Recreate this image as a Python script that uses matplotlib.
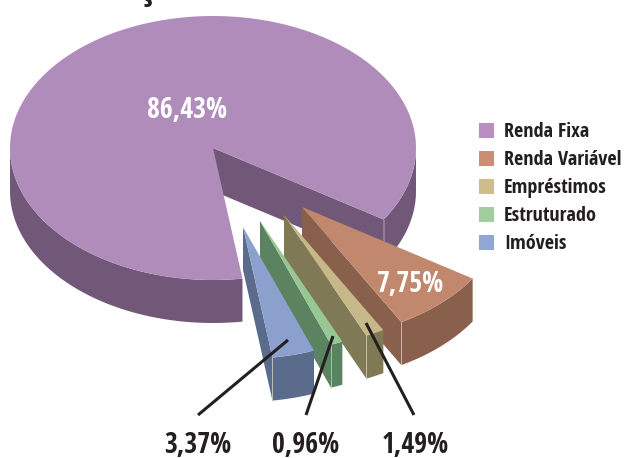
import numpy as np
import matplotlib
matplotlib.use("Agg")
import matplotlib.pyplot as plt
from matplotlib.patches import Polygon, Rectangle

# dados
categorias = ["Renda Fixa", "Renda Variável", "Empréstimos", "Estruturado", "Imóveis"]
valores = [86.43, 7.75, 1.49, 0.96, 3.37]
rotulos = ["86,43%", "7,75%", "1,49%", "0,96%", "3,37%"]
titulo = "Distribuição dos Investimentos"

cores_topo = ["#B08CBB", "#C2886E", "#C6B888", "#97C793", "#8CA0CE"]
cores_lado = ["#725878", "#89604C", "#7F7956", "#5B8360", "#5A6B8B"]
cores_legenda = ["#B88FC0", "#CC8D75", "#CDBD8C", "#A0CE9E", "#92A6D4"]

# geometria da pizza, em pixels
cx, cy = 213, 148
rx, ry = 203, 132
altura = 43
inicio = -32.8
deslocamentos = [(0, 0), (89, 59), (71, 67), (47, 73), (30, 79)]

fonte = "Open Sans Condensed"
texto_cor = "#231F20"

fig = plt.figure(figsize=(6.26, 4.58), dpi=100)
ax = fig.add_axes([0, 0, 1, 1])
ax.set_xlim(0, 626)
ax.set_ylim(458, 0)
ax.axis("off")


def arco(t1, t2, dx, dy):
    t = np.radians(np.linspace(t1, t2, 200))
    return np.column_stack([cx + dx + rx * np.cos(t), cy + dy - ry * np.sin(t)])


# angulos de cada fatia: a Renda Fixa vai no sentido anti-horario e as outras no horario
angulos = [v * 3.6 for v in valores]
limites = [(inicio, inicio + angulos[0])]
a = inicio
for ang in angulos[1:]:
    limites.append((a - ang, a))
    a -= ang


def fatia(i):
    t1, t2 = limites[i]
    dx, dy = deslocamentos[i]
    z = 2 + i
    topo = arco(t1, t2, dx, dy)
    centro = np.array([cx + dx, cy + dy])
    baixo = np.array([0, altura])
    p = topo[0]

    # parede interna, do centro ate a ponta do arco
    ax.add_patch(Polygon([centro, p, p + baixo, centro + baixo], fc=cores_lado[i], ec="none", zorder=z))
    if i == 0:
        # lateral externa: de -32 ate 0 e de 180 ate o fim do arco
        lado = arco(t1, 0, dx, dy)
        ax.add_patch(Polygon(np.vstack([lado, lado[::-1] + baixo]), fc=cores_lado[i], ec="none", zorder=z))
        lado = arco(180, t2, dx, dy)
        ax.add_patch(Polygon(np.vstack([lado, lado[::-1] + baixo]), fc=cores_lado[i], ec="none", zorder=z))
        ax.plot([p[0], p[0]], [p[1], p[1] + altura], color="#9A86A0", lw=0.6, zorder=z + 0.5)
    else:
        ax.add_patch(Polygon(np.vstack([topo, topo[::-1] + baixo]), fc=cores_lado[i], ec="none", zorder=z))
        ax.plot([p[0], p[0]], [p[1], p[1] + altura], color="#D8D0C8", lw=0.5, zorder=z + 0.5)

    ax.add_patch(Polygon(np.vstack([centro, topo]), fc=cores_topo[i], ec="none", zorder=z + 0.2))


for i in range(len(valores)):
    fatia(i)

# rotulos internos
ax.text(187, 118, rotulos[0], color="white", fontsize=20, fontweight="bold", family=fonte, ha="center", va="baseline", zorder=20)
ax.text(410.5, 292, rotulos[1], color="white", fontsize=20, fontweight="bold", family=fonte, ha="center", va="baseline", zorder=20)

# linhas de chamada
chamadas_x = [(366, 414), (333, 306), (288, 198)]
chamadas_y = [(323, 415), (336, 415), (340, 415)]
for xs, ys in zip(chamadas_x, chamadas_y):
    ax.plot(xs, ys, color=texto_cor, lw=2.2, zorder=21, solid_capstyle="butt")

ax.text(415, 453, rotulos[2], color=texto_cor, fontsize=20, fontweight="bold", family=fonte, ha="center", va="baseline")
ax.text(306, 453, rotulos[3], color=texto_cor, fontsize=20, fontweight="bold", family=fonte, ha="center", va="baseline")
ax.text(198, 453, rotulos[4], color=texto_cor, fontsize=20, fontweight="bold", family=fonte, ha="center", va="baseline")

# legenda
legenda_y = [130.5, 158.5, 186.5, 214.5, 242.5]
for nome, cor, y in zip(categorias, cores_legenda, legenda_y):
    ax.add_patch(Rectangle((479, y - 7.5), 15, 15, fc=cor, ec="none"))
    ax.text(504, y + 1.5, nome, color=texto_cor, fontsize=14.5, fontweight="bold", family=fonte, ha="left", va="center")

# titulo cortado pela borda de cima
ax.text(20, -2, titulo, color=texto_cor, fontsize=26, fontweight="bold", family=fonte, ha="left", va="baseline")

fig.savefig("out.png", dpi=100)
